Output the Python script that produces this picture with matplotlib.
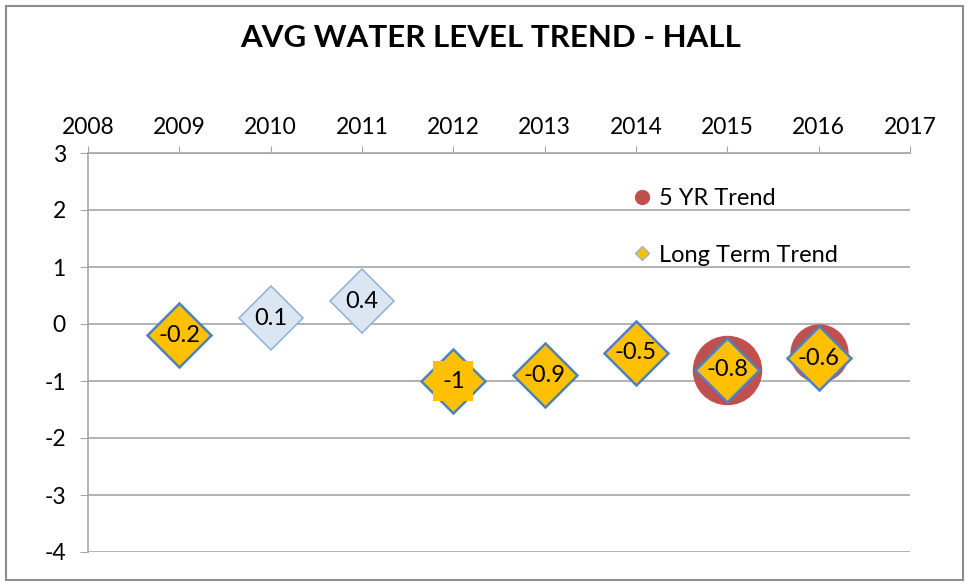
import matplotlib
matplotlib.use("Agg")
import matplotlib.pyplot as plt
from matplotlib.lines import Line2D
from matplotlib.patches import Rectangle

# data
years_lt = [2009, 2010, 2011, 2012, 2013, 2014, 2015, 2016]
trend_lt = [-0.2, 0.1, 0.4, -1.0, -0.9, -0.5, -0.8, -0.6]
light_years = [2010, 2011]          # drawn in pale blue

years_5yr = [2015, 2016]
trend_5yr = [-0.8, -0.5]
bubble_5yr = [49, 41]               # bubble diameters (pt)

extra_years = [2012]                # gold square behind the -1 label
extra_vals = [-1.0]

x_ticks = list(range(2008, 2018))
y_ticks = list(range(-4, 4))

GOLD = "#FFC000"
EDGE = "#4F81BD"
PALE = "#DCE6F2"
PALE_EDGE = "#95B3D7"
RED = "#C0504D"
GRID = "#A6A6A6"

plt.rcParams["font.family"] = ["Lato", "DejaVu Sans"]
plt.rcParams["axes.unicode_minus"] = False

fig = plt.figure(figsize=(9.67, 5.84), dpi=100)
fig.patches.append(Rectangle((6 / 967, 4 / 584), 957 / 967, 574 / 584,
                             transform=fig.transFigure, fill=False,
                             ec="#8C8C8C", lw=1.5))
ax = fig.add_axes([88 / 967, 32 / 584, 822 / 967, 399 / 584])

ax.set_xlim(2008, 2017)
ax.set_ylim(-4, 3)
ax.set_xticks(x_ticks)
ax.set_yticks(y_ticks)
ax.xaxis.tick_top()
ax.tick_params(axis="x", direction="out", length=5, color=GRID,
               labelsize=16.5, pad=6)
ax.tick_params(axis="y", direction="out", length=6, color=GRID,
               labelsize=16.5, pad=10)
for s in ["right", "bottom"]:
    ax.spines[s].set_visible(False)
for s in ["top", "left"]:
    ax.spines[s].set_color(GRID)
    ax.spines[s].set_linewidth(1.2)
ax.grid(axis="y", color=GRID, lw=1.2)
ax.set_axisbelow(True)

# 5 yr bubbles
for x, y, d in zip(years_5yr, trend_5yr, bubble_5yr):
    ax.plot(x, y, "o", ms=d, color=RED, mec=RED, zorder=2)

# long term diamonds
for x, y in zip(years_lt, trend_lt):
    if x in light_years:
        ax.plot(x, y, "D", ms=32.5, mfc=PALE, mec=PALE_EDGE, mew=1.2, zorder=3)
    else:
        ax.plot(x, y, "D", ms=32.5, mfc=GOLD, mec=EDGE, mew=1.8, zorder=3)
    ax.text(x, y, f"{y:g}", ha="center", va="center", fontsize=17,
            color="black", zorder=5)

for x, y in zip(extra_years, extra_vals):
    ax.plot(x, y, "s", ms=29, color=GOLD, mew=0, zorder=4)

handles = [
    Line2D([], [], ls="", marker="o", ms=10, color=RED, label="5 YR Trend"),
    Line2D([], [], ls="", marker="D", ms=7.5, mfc=GOLD, mec=PALE_EDGE,
           label="Long Term Trend"),
]
ax.legend(handles=handles, loc="upper left", bbox_to_anchor=(0.637, 0.965),
          frameon=False, fontsize=17, labelspacing=1.5, handlelength=0.8,
          handletextpad=0.3)

fig.text(491 / 967, 1 - 38 / 584, "AVG WATER LEVEL TREND - HALL",
         ha="center", va="center", fontsize=22.5, fontweight="bold")

fig.savefig("out.png", dpi=100)
